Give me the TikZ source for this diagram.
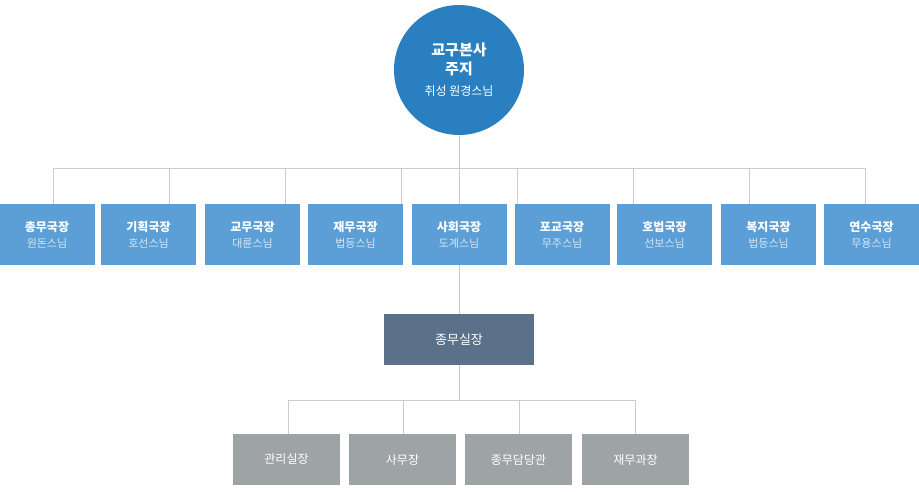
\documentclass[tikz,border=0pt]{standalone}
\usepackage{fontspec}
\newfontfamily\kr{Noto Sans CJK KR}
\usetikzlibrary{positioning}
\definecolor{headblue}{HTML}{2A7FC1}
\definecolor{bureaublue}{HTML}{5B9FD6}
\definecolor{chiefgray}{HTML}{5A7189}
\definecolor{officegray}{HTML}{9EA3A6}
\definecolor{linegray}{HTML}{CCCCCC}
\definecolor{subtext}{HTML}{D6E7F6}
\tikzset{
  bureau/.style={fill=bureaublue,text=white,minimum width=95pt,minimum height=61pt,inner sep=0pt,align=center,font=\kr\fontsize{12}{16}\selectfont},
  office/.style={fill=officegray,text=white,minimum width=107pt,minimum height=51pt,inner sep=0pt,font=\kr\fontsize{12}{14}\selectfont},
  link/.style={draw=linegray,line width=0.8pt}
}
\newcommand{\bname}[2]{\textbf{#1}\\\textcolor{subtext}{\fontsize{11}{14}\selectfont #2}}
\begin{document}
\begin{tikzpicture}[x=1pt,y=-1pt]
    \useasboundingbox (0,0) rectangle (919,491);
    \node[circle,fill=headblue,minimum size=130pt,inner sep=0pt,text=white,align=center,font=\kr\fontsize{15}{19}\selectfont] (head) at (459,70) {\textbf{교구본사}\\\textbf{주지}\\[2pt]\fontsize{12}{14}\selectfont 취성 원경스님};

    % bureaus
    \node[bureau] (b1) at (47,234.5) {\bname{총무국장}{원돈스님}};
    \node[bureau] (b2) at (148.5,234.5) {\bname{기획국장}{호선스님}};
    \node[bureau] (b3) at (252.5,234.5) {\bname{교무국장}{대륜스님}};
    \node[bureau] (b4) at (355.5,234.5) {\bname{재무국장}{법등스님}};
    \node[bureau] (b5) at (459,234.5) {\bname{사회국장}{도계스님}};
    \node[bureau] (b6) at (562,234.5) {\bname{포교국장}{무주스님}};
    \node[bureau] (b7) at (664.5,234.5) {\bname{호법국장}{선보스님}};
    \node[bureau] (b8) at (768.5,234.5) {\bname{복지국장}{법등스님}};
    \node[bureau] (b9) at (871.5,234.5) {\bname{연수국장}{무용스님}};

    \node[fill=chiefgray,text=white,minimum width=150pt,minimum height=51pt,font=\kr\fontsize{13}{15}\selectfont] (chief) at (459,339.5) {종무실장};

    \node[office] (o1) at (286.5,459.5) {관리실장};
    \node[office] (o2) at (402.5,459.5) {사무장};
    \node[office] (o3) at (518.5,459.5) {종무담당관};
    \node[office] (o4) at (635.5,459.5) {재무과장};

    % connectors
    \coordinate (bus) at (459,168);
    \draw[link] (head.south) -- (bus);
    \foreach \x in {53,169,285,401,459,517,633,749,865}
        \draw[link] (\x,204) |- (bus);
    \draw[link] (b5.south) -- (chief.north);
    \coordinate (obus) at (459,400);
    \draw[link] (chief.south) -- (obus);
    \draw[link] (288,434) |- (obus);
    \draw[link] (403,434) |- (obus);
    \draw[link] (519,434) |- (obus);
    \draw[link] (635,434) |- (obus);
\end{tikzpicture}
\end{document}
